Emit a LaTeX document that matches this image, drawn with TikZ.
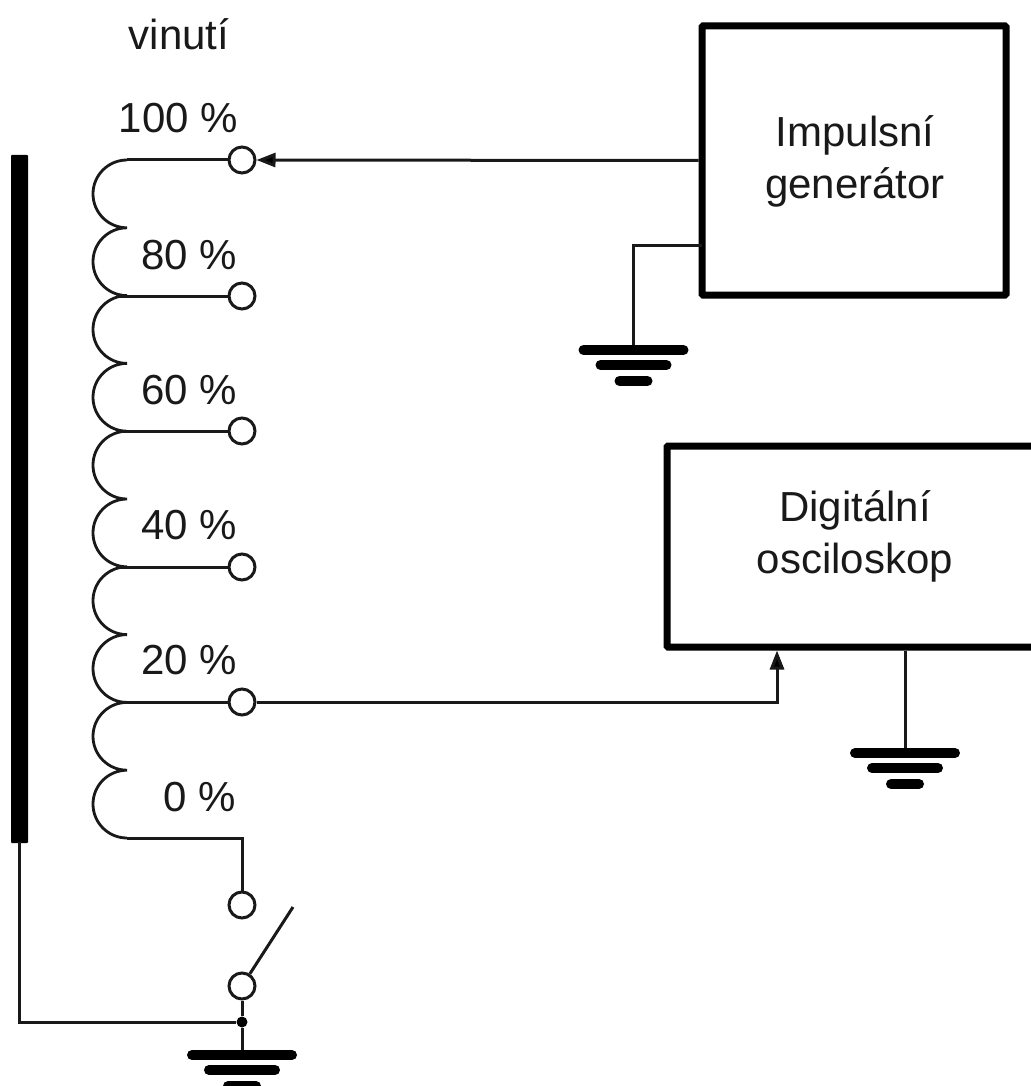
\documentclass[tikz,border=0pt]{standalone}
\usepackage{fontspec}
\setmainfont{Liberation Sans}
\usetikzlibrary{arrows.meta}
\tikzset{
  wire/.style={line width=3pt,draw=black!90},
  arrowwire/.style={wire,-{Triangle[length=19pt,width=14pt,fill=black]}},
  blockbox/.style={draw=black,line width=7pt,rounded corners=1pt,fill=none,inner sep=0pt,minimum width=#1},
  term/.style={circle,draw=black!90,line width=3pt,fill=white,minimum size=26pt,inner sep=0pt},
  lbl/.style={font=\fontsize{42}{52}\selectfont,inner sep=0pt,align=center,text=black!90},
  bar/.style={line width=10pt,line cap=round,draw=black},
  dotnode/.style={circle,fill=black,minimum size=11pt,inner sep=0pt},
}
\newcommand{\earth}[2]{%
  \draw[bar] (#1-50,#2) -- (#1+50,#2);
  \draw[bar] (#1-33,#2+15) -- (#1+33,#2+15);
  \draw[bar] (#1-14,#2+31) -- (#1+14,#2+31);
}
\begin{document}
\begin{tikzpicture}[x=1pt,y=-1pt]
\useasboundingbox (0,0) rectangle (1030,1086);
% core
\fill[black,rounded corners=1pt] (11,155) rectangle (28,843);
\coordinate (coreb) at (19.5,842);
% coil
\draw[wire,line width=2.8pt] (127,160)
  \foreach \i in {1,...,10} { arc[start angle=90,end angle=270,x radius=34,y radius=-33.9] };
\foreach \n/\y/\x in {a/160/127,b/296/118,c/431/118,d/567/118,e/702/118}{
  \node[term] (\n) at (242,\y) {};
  \coordinate (\n l) at (\x,\y);
  \draw[wire] (\n l) -- (\n);
}
\coordinate (fl) at (127,838);
\coordinate (fc) at (242,838);
\node[term] (f) at (242,905) {};
\node[term] (g) at (242,986) {};
\draw[wire] (fl) -- (fc) -- (f);
\coordinate (sw) at (293,907);
\draw[wire,line cap=butt] (g) -- (sw);
\node[dotnode] (j) at (242,1022) {};
\coordinate (g1) at (242,1055);
\draw[wire] (g) -- (j) -- (g1);
\draw[wire] (coreb) -- (19.5,1022) -- (j);
\earth{242}{1055}
% labels
\node[lbl] (t0) at (179,34) {vinutí};
\node[lbl] (t1) at (178.5,118) {100 \%};
\node[lbl] (t2) at (189,255) {80 \%};
\node[lbl] (t3) at (189,390) {60 \%};
\node[lbl] (t4) at (189,525) {40 \%};
\node[lbl] (t5) at (189,660) {20 \%};
\node[lbl] (t6) at (200,797) {0 \%};
% generator
\node[blockbox=304pt,minimum height=269pt] (gen) at (854,160.5) {};
\node[lbl] (gent) at (855,161) {Impulsní\\generátor};
\draw[arrowwire] (gen.west) -- (a);
\coordinate (g2t) at (633.5,245);
\coordinate (g2) at (633.5,350);
\draw[wire] (702,245) -- (g2t) -- (g2);
\earth{633.5}{350}
% oscilloscope
\node[blockbox=376pt,minimum height=201pt] (osc) at (855,546.5) {};
\node[lbl] (osct) at (855,536) {Digitální\\osciloskop};
\coordinate (oc) at (777,702);
\draw[arrowwire] (e) -- (oc) -- (oc |- osc.south);
\coordinate (g3) at (905,753);
\draw[wire] (g3 |- osc.south) -- (g3);
\earth{905}{753}
\end{tikzpicture}
\end{document}
